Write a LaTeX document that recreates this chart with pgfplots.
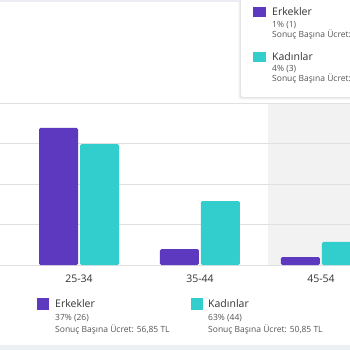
\documentclass[border=0pt]{standalone}
\usepackage{pgfplots}
\pgfplotsset{compat=1.18}
\usepackage{fontspec}
\setmainfont{Open Sans}
\definecolor{erk}{RGB}{92,57,190}
\definecolor{kad}{RGB}{50,206,206}
\definecolor{gridc}{RGB}{224,224,226}
\definecolor{hoverc}{RGB}{242,242,242}
\definecolor{topband}{RGB}{236,236,244}
\definecolor{botband}{RGB}{234,240,244}
\definecolor{txt}{RGB}{51,51,51}
\definecolor{txts}{RGB}{85,85,85}
\begin{document}
\begin{tikzpicture}[x=1pt,y=1pt]
\path[use as bounding box] (0,0) rectangle (350,-350);
\clip (0,0) rectangle (350,-350);
\fill[white] (0,0) rectangle (350,-350);
\fill[topband] (0,0) rectangle (350,-2.5);
\fill[botband] (0,-345) rectangle (350,-350);
\fill[hoverc] (268,-103) rectangle (350,-265);
\begin{axis}[
  at={(0pt,-265pt)}, anchor=south west,
  width=350pt, height=162pt, scale only axis,
  xmin=-0.653, xmax=2.24, ymin=0, ymax=30,
  axis line style={draw=none},
  ytick={0,7.5,15,22.5,30}, yticklabels={},
  ymajorgrids, grid style={gridc, line width=0.9pt},
  major tick length=0pt,
  xtick={0,1,2}, xticklabels={25-34,35-44,45-54},
  xticklabel style={font=\fontsize{10.5}{12}\selectfont, text=txt, yshift=-6pt},
  ybar=2pt, bar width=39pt,
]
\addplot[fill=erk, draw=none, rounded corners=1.5pt] coordinates {(0,25.4) (1,2.96) (2,1.48)};
\addplot[fill=kad, draw=none, rounded corners=1.5pt] coordinates {(0,22.4) (1,11.85) (2,4.26)};
\end{axis}
% bottom legend
\fill[erk] (37,-298) rectangle (49,-310);
\node[anchor=base west, inner sep=0, text=txt, font=\fontsize{10.5}{12}\selectfont] at (55,-307.5) {Erkekler};
\node[anchor=base west, inner sep=0, text=txts, font=\fontsize{8.5}{10}\selectfont] at (55,-320) {37\% (26)};
\node[anchor=base west, inner sep=0, text=txts, font=\fontsize{8.5}{10}\selectfont] at (55,-332) {Sonuç Başına Ücret: 56,85 TL};
\fill[kad] (191,-298) rectangle (203,-310);
\node[anchor=base west, inner sep=0, text=txt, font=\fontsize{10.5}{12}\selectfont] at (208,-307.5) {Kadınlar};
\node[anchor=base west, inner sep=0, text=txts, font=\fontsize{8.5}{10}\selectfont] at (208,-320) {63\% (44)};
\node[anchor=base west, inner sep=0, text=txts, font=\fontsize{8.5}{10}\selectfont] at (208,-332) {Sonuç Başına Ücret: 50,85 TL};
% tooltip
\fill[black!6, rounded corners=3pt] (238.5,3) rectangle (355,-99.5);
\fill[black!10, rounded corners=3pt] (239.8,3) rectangle (355,-98.2);
\fill[white, rounded corners=2.5pt] (241,3) rectangle (355,-97);
\fill[erk] (253,-7.5) rectangle (266,-17.5);
\node[anchor=base west, inner sep=0, text=txt, font=\fontsize{10.5}{12}\selectfont] at (272,-16) {Erkekler};
\node[anchor=base west, inner sep=0, text=txts, font=\fontsize{8.5}{10}\selectfont] at (272,-27.5) {1\% (1)};
\node[anchor=base west, inner sep=0, text=txts, font=\fontsize{8.5}{10}\selectfont] at (272,-37.5) {Sonuç Başına Ücret:};
\fill[kad] (253,-52.5) rectangle (266,-62.5);
\node[anchor=base west, inner sep=0, text=txt, font=\fontsize{10.5}{12}\selectfont] at (272,-61) {Kadınlar};
\node[anchor=base west, inner sep=0, text=txts, font=\fontsize{8.5}{10}\selectfont] at (272,-72) {4\% (3)};
\node[anchor=base west, inner sep=0, text=txts, font=\fontsize{8.5}{10}\selectfont] at (272,-82) {Sonuç Başına Ücret:};
\end{tikzpicture}
\end{document}
